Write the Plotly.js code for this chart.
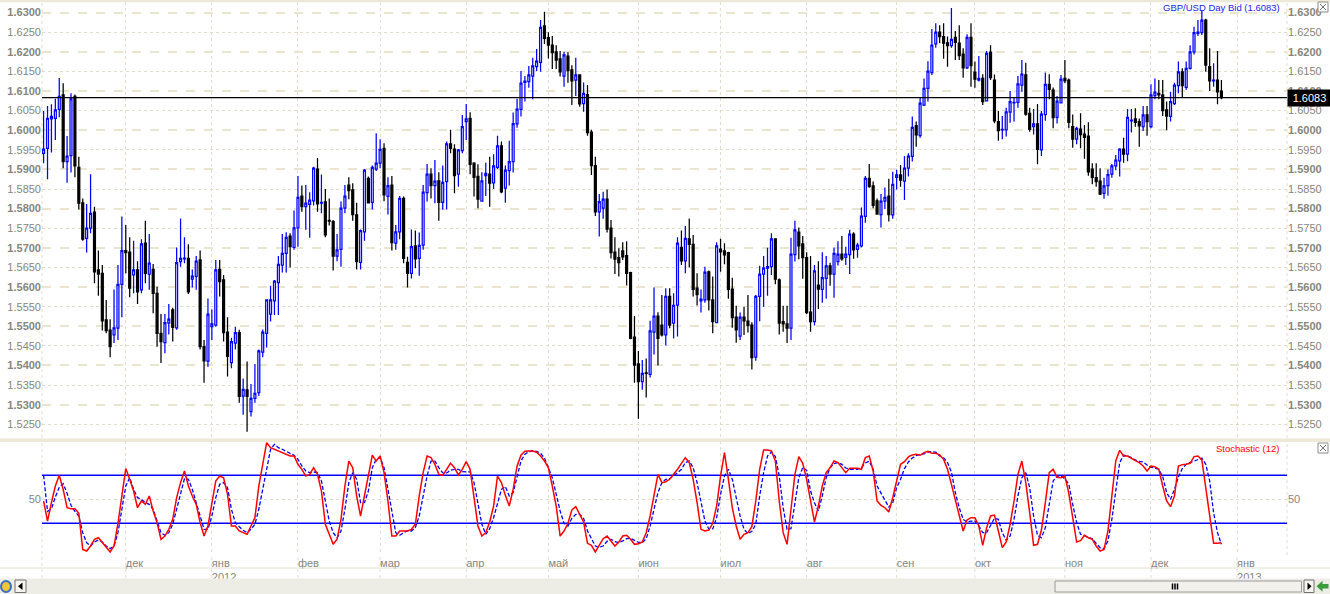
<!DOCTYPE html>
<html><head><meta charset="utf-8">
<script src="https://cdn.plot.ly/plotly-3.0.1.min.js"></script>
<style>html,body{margin:0;padding:0;background:#fff;overflow:hidden}#chart{width:1330px;height:594px}</style>
</head><body><div id="chart"></div>
<script>
// ---------------- DATA ----------------
const open = [
1.5941,1.5954,1.6029,1.6030,1.6053,1.6090,1.5920,1.5935,1.6086,1.5905,
1.5815,1.5724,1.5750,1.5791,1.5644,1.5635,1.5516,1.5490,1.5478,1.5495,
1.5607,1.5693,1.5689,1.5631,1.5644,1.5593,1.5712,1.5633,1.5645,1.5584,
1.5482,1.5458,1.5508,1.5542,1.5496,1.5665,1.5672,1.5673,1.5620,1.5627,
1.5669,1.5448,1.5411,1.5499,1.5503,1.5645,1.5618,1.5485,1.5407,1.5457,
1.5484,1.5322,1.5338,1.5282,1.5316,1.5331,1.5434,1.5482,1.5531,1.5565,
1.5611,1.5656,1.5686,1.5730,1.5701,1.5751,1.5832,1.5805,1.5811,1.5820,
1.5901,1.5814,1.5817,1.5770,1.5767,1.5679,1.5696,1.5801,1.5860,1.5848,
1.5784,1.5663,1.5741,1.5877,1.5816,1.5901,1.5916,1.5954,1.5831,1.5860,
1.5712,1.5741,1.5826,1.5663,1.5635,1.5705,1.5673,1.5707,1.5841,1.5888,
1.5859,1.5871,1.5816,1.5869,1.5965,1.5952,1.5888,1.5948,1.6022,1.6030,
1.5916,1.5882,1.5819,1.5884,1.5888,1.5866,1.5905,1.5960,1.5852,1.5897,
1.5920,1.6016,1.6053,1.6122,1.6124,1.6138,1.6162,1.6173,1.6266,1.6236,
1.6217,1.6200,1.6182,1.6138,1.6189,1.6154,1.6128,1.6141,1.6068,1.6091,
1.5995,1.5910,1.5792,1.5801,1.5824,1.5750,1.5689,1.5675,1.5692,1.5680,
1.5637,1.5472,1.5404,1.5359,1.5381,1.5377,1.5485,1.5526,1.5503,1.5478,
1.5576,1.5508,1.5554,1.5701,1.5667,1.5723,1.5709,1.5597,1.5565,1.5567,
1.5639,1.5567,1.5509,1.5697,1.5692,1.5688,1.5595,1.5523,1.5475,1.5523,
1.5513,1.5503,1.5421,1.5576,1.5633,1.5648,1.5652,1.5723,1.5618,1.5512,
1.5506,1.5495,1.5683,1.5740,1.5710,1.5675,1.5536,1.5512,1.5605,1.5594,
1.5622,1.5654,1.5633,1.5665,1.5684,1.5676,1.5683,1.5735,1.5696,1.5705,
1.5780,1.5877,1.5858,1.5820,1.5785,1.5819,1.5832,1.5784,1.5880,1.5886,
1.5870,1.5903,1.5933,1.6012,1.5986,1.6064,1.6107,1.6147,1.6220,1.6250,
1.6239,1.6223,1.6216,1.6237,1.6222,1.6194,1.6159,1.6237,1.6148,1.6128,
1.6132,1.6075,1.6199,1.6128,1.6022,1.6001,1.6001,1.6046,1.6070,1.6071,
1.6115,1.6141,1.6043,1.6009,1.6016,1.5950,1.6040,1.6117,1.6102,1.6033,
1.6070,1.6132,1.6128,1.6009,1.5977,1.6003,1.5990,1.5985,1.5901,1.5879,
1.5870,1.5839,1.5859,1.5888,1.5909,1.5922,1.5952,1.5939,1.6024,1.6029,
1.6022,1.6009,1.6039,1.6009,1.6088,1.6094,1.6090,1.6052,1.6035,1.6068,
1.6114,1.6149,1.6109,1.6158,1.6200,1.6247,1.6249,1.6281,1.6162,1.6126,
1.6128,1.6100];
const high = [
1.6049,1.6062,1.6066,1.6080,1.6133,1.6120,1.5985,1.6094,1.6091,1.5932,
1.5826,1.5812,1.5888,1.5805,1.5693,1.5656,1.5567,1.5518,1.5594,1.5656,
1.5780,1.5758,1.5727,1.5718,1.5666,1.5722,1.5769,1.5735,1.5659,1.5601,
1.5531,1.5531,1.5557,1.5547,1.5701,1.5775,1.5727,1.5709,1.5645,1.5679,
1.5693,1.5465,1.5571,1.5543,1.5669,1.5669,1.5631,1.5523,1.5471,1.5499,
1.5491,1.5367,1.5410,1.5353,1.5404,1.5441,1.5492,1.5567,1.5603,1.5618,
1.5679,1.5735,1.5740,1.5737,1.5795,1.5883,1.5859,1.5860,1.5842,1.5907,
1.5929,1.5887,1.5850,1.5826,1.5771,1.5735,1.5818,1.5860,1.5880,1.5865,
1.5815,1.5747,1.5901,1.5882,1.5910,1.5992,1.5977,1.5967,1.5880,1.5883,
1.5758,1.5832,1.5831,1.5677,1.5747,1.5744,1.5739,1.5860,1.5914,1.5903,
1.5924,1.5893,1.5910,1.5971,1.6001,1.5964,1.5952,1.6039,1.6067,1.6046,
1.5918,1.5913,1.5893,1.5917,1.5932,1.5939,1.5986,1.5971,1.5910,1.5973,
1.6045,1.6080,1.6151,1.6138,1.6164,1.6185,1.6207,1.6281,1.6302,1.6250,
1.6240,1.6217,1.6202,1.6200,1.6199,1.6166,1.6185,1.6143,1.6122,1.6115,
1.6001,1.5932,1.5837,1.5843,1.5849,1.5771,1.5727,1.5699,1.5714,1.5717,
1.5639,1.5526,1.5437,1.5414,1.5418,1.5514,1.5599,1.5536,1.5580,1.5597,
1.5597,1.5584,1.5727,1.5744,1.5756,1.5775,1.5733,1.5635,1.5594,1.5652,
1.5642,1.5627,1.5714,1.5723,1.5712,1.5690,1.5624,1.5552,1.5535,1.5550,
1.5580,1.5510,1.5580,1.5654,1.5679,1.5700,1.5737,1.5724,1.5622,1.5552,
1.5552,1.5726,1.5769,1.5752,1.5730,1.5689,1.5679,1.5656,1.5666,1.5689,
1.5679,1.5662,1.5701,1.5717,1.5730,1.5703,1.5746,1.5740,1.5713,1.5803,
1.5883,1.5914,1.5869,1.5826,1.5837,1.5854,1.5876,1.5894,1.5899,1.5911,
1.5934,1.5941,1.6035,1.6022,1.6084,1.6132,1.6176,1.6258,1.6273,1.6268,
1.6273,1.6239,1.6312,1.6253,1.6268,1.6209,1.6245,1.6273,1.6175,1.6189,
1.6143,1.6202,1.6217,1.6142,1.6049,1.6036,1.6057,1.6100,1.6084,1.6138,
1.6179,1.6172,1.6057,1.6054,1.6067,1.6049,1.6147,1.6143,1.6109,1.6087,
1.6141,1.6179,1.6132,1.6040,1.6009,1.6043,1.6013,1.6020,1.5916,1.5916,
1.5903,1.5879,1.5900,1.5914,1.5937,1.5954,1.5981,1.6054,1.6054,1.6056,
1.6030,1.6062,1.6062,1.6117,1.6132,1.6128,1.6128,1.6073,1.6098,1.6121,
1.6175,1.6158,1.6175,1.6217,1.6264,1.6281,1.6306,1.6284,1.6209,1.6171,
1.6202,1.6128];
const low = [
1.5916,1.5875,1.5943,1.5975,1.6033,1.5903,1.5866,1.5892,1.5880,1.5798,
1.5718,1.5688,1.5737,1.5610,1.5578,1.5489,1.5482,1.5421,1.5457,1.5465,
1.5523,1.5635,1.5574,1.5584,1.5557,1.5584,1.5610,1.5593,1.5533,1.5448,
1.5406,1.5431,1.5479,1.5461,1.5491,1.5652,1.5661,1.5582,1.5599,1.5593,
1.5441,1.5356,1.5397,1.5465,1.5499,1.5576,1.5461,1.5372,1.5393,1.5441,
1.5305,1.5274,1.5231,1.5270,1.5305,1.5322,1.5421,1.5446,1.5512,1.5529,
1.5529,1.5637,1.5637,1.5650,1.5695,1.5703,1.5792,1.5746,1.5726,1.5808,
1.5792,1.5788,1.5727,1.5757,1.5642,1.5666,1.5652,1.5788,1.5824,1.5769,
1.5645,1.5645,1.5718,1.5814,1.5798,1.5896,1.5903,1.5819,1.5785,1.5693,
1.5695,1.5722,1.5661,1.5599,1.5622,1.5648,1.5629,1.5695,1.5818,1.5826,
1.5814,1.5769,1.5797,1.5798,1.5941,1.5839,1.5856,1.5941,1.5975,1.5888,
1.5831,1.5801,1.5818,1.5832,1.5805,1.5850,1.5901,1.5839,1.5815,1.5859,
1.5892,1.6006,1.6035,1.6073,1.6108,1.6079,1.6151,1.6149,1.6220,1.6183,
1.6156,1.6156,1.6137,1.6111,1.6121,1.6064,1.6087,1.6060,1.6047,1.5986,
1.5886,1.5781,1.5729,1.5774,1.5739,1.5673,1.5633,1.5627,1.5669,1.5604,
1.5467,1.5356,1.5264,1.5338,1.5318,1.5369,1.5428,1.5400,1.5474,1.5451,
1.5495,1.5469,1.5474,1.5656,1.5635,1.5650,1.5576,1.5553,1.5535,1.5560,
1.5540,1.5482,1.5508,1.5639,1.5658,1.5570,1.5496,1.5458,1.5465,1.5478,
1.5484,1.5390,1.5412,1.5513,1.5550,1.5578,1.5631,1.5607,1.5479,1.5486,
1.5457,1.5465,1.5665,1.5671,1.5621,1.5531,1.5486,1.5502,1.5544,1.5560,
1.5570,1.5603,1.5573,1.5655,1.5667,1.5656,1.5633,1.5672,1.5675,1.5701,
1.5764,1.5853,1.5801,1.5785,1.5752,1.5799,1.5767,1.5774,1.5849,1.5856,
1.5822,1.5882,1.5920,1.5958,1.5981,1.6062,1.6073,1.6141,1.6210,1.6222,
1.6182,1.6162,1.6210,1.6179,1.6179,1.6134,1.6156,1.6111,1.6108,1.6124,
1.6064,1.6073,1.6128,1.6018,1.5973,1.5977,1.5984,1.6019,1.6022,1.6057,
1.6098,1.6037,1.5996,1.5989,1.5913,1.5934,1.6024,1.6079,1.6005,1.6017,
1.6068,1.6120,1.6005,1.5955,1.5964,1.5954,1.5927,1.5884,1.5862,1.5856,
1.5835,1.5825,1.5833,1.5879,1.5898,1.5882,1.5917,1.5921,1.5994,1.6009,
1.5958,1.5998,1.5986,1.6005,1.6079,1.6079,1.6036,1.6000,1.6022,1.6064,
1.6094,1.6084,1.6103,1.6155,1.6193,1.6240,1.6243,1.6149,1.6100,1.6111,
1.6066,1.6079];
const close = [
1.5952,1.6030,1.6035,1.6052,1.6086,1.5920,1.5934,1.6080,1.5909,1.5814,
1.5722,1.5750,1.5788,1.5639,1.5633,1.5514,1.5489,1.5448,1.5496,1.5607,
1.5693,1.5688,1.5597,1.5644,1.5588,1.5710,1.5635,1.5661,1.5584,1.5482,
1.5461,1.5509,1.5518,1.5497,1.5662,1.5673,1.5674,1.5588,1.5628,1.5666,
1.5448,1.5412,1.5531,1.5506,1.5644,1.5614,1.5484,1.5423,1.5461,1.5484,
1.5321,1.5339,1.5321,1.5316,1.5329,1.5437,1.5485,1.5567,1.5567,1.5615,
1.5658,1.5686,1.5727,1.5703,1.5751,1.5829,1.5805,1.5814,1.5822,1.5903,
1.5812,1.5816,1.5733,1.5768,1.5679,1.5695,1.5801,1.5832,1.5846,1.5785,
1.5665,1.5744,1.5898,1.5815,1.5905,1.5916,1.5951,1.5835,1.5859,1.5713,
1.5741,1.5826,1.5673,1.5635,1.5703,1.5672,1.5706,1.5842,1.5888,1.5859,
1.5870,1.5816,1.5867,1.5965,1.5954,1.5884,1.5950,1.6009,1.6029,1.5913,
1.5880,1.5824,1.5871,1.5890,1.5865,1.5909,1.5960,1.5843,1.5898,1.5920,
1.6017,1.6054,1.6120,1.6125,1.6141,1.6164,1.6176,1.6262,1.6234,1.6217,
1.6198,1.6179,1.6149,1.6192,1.6152,1.6126,1.6141,1.6067,1.6094,1.5994,
1.5910,1.5792,1.5818,1.5824,1.5748,1.5688,1.5671,1.5662,1.5677,1.5635,
1.5469,1.5401,1.5359,1.5380,1.5380,1.5488,1.5526,1.5469,1.5478,1.5576,
1.5503,1.5553,1.5712,1.5667,1.5724,1.5709,1.5594,1.5581,1.5569,1.5638,
1.5567,1.5512,1.5705,1.5690,1.5682,1.5594,1.5522,1.5491,1.5523,1.5514,
1.5502,1.5420,1.5576,1.5633,1.5648,1.5652,1.5723,1.5620,1.5508,1.5506,
1.5495,1.5684,1.5746,1.5705,1.5675,1.5535,1.5512,1.5641,1.5595,1.5624,
1.5654,1.5633,1.5686,1.5684,1.5672,1.5684,1.5735,1.5695,1.5707,1.5781,
1.5877,1.5856,1.5808,1.5786,1.5819,1.5829,1.5785,1.5862,1.5886,1.5873,
1.5903,1.5934,1.6007,1.5988,1.6069,1.6107,1.6151,1.6217,1.6250,1.6239,
1.6222,1.6216,1.6232,1.6224,1.6190,1.6159,1.6237,1.6165,1.6130,1.6132,
1.6073,1.6196,1.6134,1.6024,1.5999,1.6002,1.6047,1.6073,1.6071,1.6118,
1.6143,1.6041,1.6002,1.6016,1.5951,1.6041,1.6117,1.6104,1.6032,1.6074,
1.6130,1.6126,1.6020,1.5977,1.6005,1.5989,1.5982,1.5894,1.5880,1.5869,
1.5837,1.5858,1.5887,1.5909,1.5924,1.5952,1.5939,1.6033,1.6026,1.6020,
1.6011,1.6039,1.6022,1.6090,1.6097,1.6090,1.6050,1.6036,1.6073,1.6115,
1.6149,1.6114,1.6158,1.6200,1.6249,1.6250,1.6281,1.6166,1.6126,1.6128,
1.6098,1.6083];
const stochK = [
48.6,31.9,47.2,61.1,70,58.3,43,42.2,42.2,38.3,
8.3,6.9,11.1,16.7,18,13.9,9.7,6.1,11.1,30,
52.8,75.6,66.7,56.9,43,48.6,45.8,52.8,40.3,30.6,
16.7,19.4,25,33.3,51.4,63.9,73.6,61.1,52.8,45.8,
30.6,19.4,27.8,47.2,65.3,69.4,68,54.2,27.8,27.8,
23.6,22.2,20.8,27.8,34.7,61.1,79.2,97.2,93,91.7,
90.3,88.9,87.5,86.1,86.1,79.2,75,69.4,70.8,76.4,
70.8,56.9,29.2,20.8,12.5,16.7,33.3,61.1,81.9,76.4,
52.8,36.1,52.8,72.2,86.9,81.9,86.1,72.2,48.6,19.4,
19.4,23.6,23.6,23.6,25,29.2,52.8,72.2,86.1,84.7,
79.2,70.8,70,75,80,76.4,70.3,75,81.4,75,
51.4,27.8,19.4,22.2,31.1,44.4,69.4,63.9,53.3,44.4,
58.3,77.8,86.7,90,90.3,90.3,89.2,86.1,81.9,76.4,
61.1,44.4,19.4,23.6,30,41.1,43.9,37.5,31.1,13.3,
11.7,6.1,11.7,17.2,19.4,15.3,11.1,14.4,19.4,20,
16.7,12.5,13,14.4,22.2,36.1,54.2,70.8,63.9,64.7,
66.7,70.8,75,80,84.7,80.6,66.7,47.2,25,23.6,
24.4,30,44.4,69.4,88.9,66.7,43,27.8,16.7,20.8,
22.2,27.2,48.6,75,91.1,91.1,90.3,82,48.6,22.2,
12.5,41.7,70.8,85.6,80,66.7,47.2,31.1,44.4,61.1,
72.2,76.4,81.9,80.6,76.4,72.2,75.8,75.8,75.8,75,
84.7,86.1,73.6,48.6,45,43,39.4,51.4,66.7,79.2,
81.4,85.3,87,87.5,86.7,88.9,90,88.3,88.3,87,
83.3,75,62.5,49.4,36.1,23.6,32.8,34.7,34.7,27.8,
11.7,26.4,36.1,36.9,23.6,9.7,14.4,29.2,48.6,70.8,
81.9,63.9,38.9,11.7,12.5,24.4,47.2,72.2,75,68.3,
68,69.4,55,36.1,14.4,15.6,20,18,16.7,11.1,
6.9,8.3,23.6,52.8,81.9,90.8,86.1,86.1,83.9,82.2,
80.6,77.8,73.6,77.8,77.2,75,61.1,48.6,43.9,52.8,
77.8,78.9,79.2,80,85.6,86.1,82.8,58.3,34.7,13.3,
13.3,13.9];
const stochD = [
70,40,42,52,60,63,55,45,40,36,
22.2,13.9,11.1,14.4,16.1,14.4,11.1,8.9,11.1,22.2,
41.7,61.1,68,58.3,51.4,50,47.2,45.8,41.7,31.9,
22.2,20,22.2,29.2,41.7,55.6,67.2,66.7,58.3,47.2,
36.1,25,25,36.1,51.4,62.5,63.9,59.7,41.7,30.6,
27.2,24.2,22.2,25,29.2,41.7,58.3,75,91.7,95.8,
93,91.7,90.3,88.3,86.7,83.3,77.8,73.6,72.2,72.8,
72.2,65.3,48.6,31.9,22.2,18,23.6,41.7,63.9,72.2,
66.7,47.2,47.2,56.9,76.4,83.3,84.7,76.4,58.3,40.3,
22.2,20,22.2,23.6,23.6,26.4,36.1,52.8,69.4,81.9,
81.9,76.4,72,72,74.2,75,75,73,72.8,72.8,
63.9,47.2,29.2,20.8,25.6,34.7,47.2,58.3,60.6,52.8,
55.6,69.4,81.9,87.5,89.7,90.3,90,88.3,84.4,76.4,
68,54.2,40.3,30,27.8,34.2,37.5,37.5,34.2,23.6,
16.7,11.1,10,11.1,15,16.7,14.7,13.9,15.3,17.2,
17.5,15.8,14.2,13.9,17.2,27.8,43,55.6,63.9,66.7,
67.2,69.4,72.2,75,80.6,81.9,76.4,63.9,47.2,31.9,
25.3,25.3,34.7,54.2,69.4,75,66.7,50,36.1,25,
21.4,23.3,29.2,52.8,72.2,86.1,89.4,85.6,69.4,43,
25,25.6,48.6,68,76.4,74.2,56.9,47.2,40.3,52.8,
68,76.4,79.7,80.6,79.2,76.1,75,75,75,76.4,
80.3,81.7,75,61.1,55,49.4,43.6,47.2,59.7,66.7,
75.6,81.1,84.4,86.4,87.5,87.8,89.4,89.7,89.4,86.1,
84.7,80.6,72.8,55.6,43,33.3,31.1,31.9,31.9,27.8,
22.2,22.2,28.3,34.2,33.3,22.2,15.8,19.4,33.3,52.8,
68,72.2,59.7,36.1,20,18,26.4,47.2,65.3,69.4,
69.4,67.2,62.5,45.8,30.6,20.8,19.4,18.6,17.2,13.3,
9.7,8.9,15.3,33.3,56.9,80.6,86.7,86.1,84.7,82.8,
81.7,81.1,78.6,76.9,76.1,75,68.9,55.6,50,58.3,
68.6,75.6,79.2,80.6,81.9,83.3,84.4,79.2,65.3,38.9,
22.2,12.5];
// bar index of the first trading day of each month shown on the time axis
const monthStartIdx = [21,43,65,86,108,129,152,173,195,218,238,261,283,305];
const monthLabels = ['дек','янв<br>2012','фев','мар','апр','май','июн','июл','авг','сен','окт','ноя','дек','янв<br>2013'];
const priceTicks = [1.5250,1.5300,1.5350,1.5400,1.5450,1.5500,1.5550,1.5600,1.5650,1.5700,1.5750,1.5800,1.5850,1.5900,1.5950,1.6000,1.6050,1.6100,1.6150,1.6200,1.6250,1.6300];
const stochTicks = [50];
const stochLevels = [30, 70];
const symbolName = 'GBP/USD Day Bid';
const stochName = 'Stochastic (12)';

// ---------------- CHART ----------------
const idx = close.map((_, i) => i);
const lastClose = close[close.length - 1];

const W = 1330, H = 594, ML = 42, MR = 43, MT = 2, MB = 39;
const PX0 = ML, PX1 = W - MR, PY0 = MT, PY1 = H - MB;
const px = v => (v - PX0) / (PX1 - PX0);
const py = v => (PY1 - v) / (PY1 - PY0);

const FONT = 'Liberation Sans, Arial, sans-serif';
const LBL = '#86867c';
const GRID_DASH = '#E9E5CF';
const GRID_DOT = '#E2DECB';
const BEIGE = '#ECE9D8';

const isMajor = v => Math.abs(v * 100 - Math.round(v * 100)) < 1e-6;
const priceText = priceTicks.map(v => isMajor(v) ? '<b>' + v.toFixed(4) + '</b>' : v.toFixed(4));
const majorTicks = priceTicks.filter(isMajor);
const minorTicks = priceTicks.filter(v => !isMajor(v));

const priceRange = [1.5215, 1.6327];
const stochRange = [3.6, 98.6];
const xRange = [-0.41, 317.76];

const traces = [
  {type: 'candlestick', x: idx, open: open, high: high, low: low, close: close,
   xaxis: 'x', yaxis: 'y', hoverinfo: 'skip', whiskerwidth: 0,
   increasing: {line: {color: '#0000FF', width: 1.25}, fillcolor: '#FFFFFF'},
   decreasing: {line: {color: '#000000', width: 1.25}, fillcolor: '#000000'}},
  {type: 'scatter', mode: 'markers', x: [idx[0]], y: [close[0]], xaxis: 'x', yaxis: 'y3', marker: {opacity: 0}, hoverinfo: 'skip'},
  {type: 'scatter', mode: 'markers', x: [idx[0]], y: [close[0]], xaxis: 'x', yaxis: 'y5', marker: {opacity: 0}, hoverinfo: 'skip'},
  {type: 'scatter', mode: 'lines', x: idx, y: stochD, xaxis: 'x2', yaxis: 'y2',
   line: {color: '#0000FF', width: 1.3, dash: '4px,2px'}, hoverinfo: 'skip'},
  {type: 'scatter', mode: 'lines', x: idx, y: stochK, xaxis: 'x2', yaxis: 'y2',
   line: {color: '#FF0000', width: 1.5}, hoverinfo: 'skip'},
  {type: 'scatter', mode: 'markers', x: [idx[0]], y: [stochK[0]], xaxis: 'x2', yaxis: 'y4', marker: {opacity: 0}, hoverinfo: 'skip'}
];

const tickFont = {family: FONT, size: 11, color: LBL};
const layout = {
  width: W, height: H, margin: {l: ML, r: MR, t: MT, b: MB, pad: 0},
  paper_bgcolor: '#FFFFFF', plot_bgcolor: '#FFFFFF', showlegend: false,
  hovermode: false, dragmode: false,
  xaxis: {domain: [0, 1], anchor: 'y', range: xRange, tickmode: 'array', tickvals: monthStartIdx,
          showticklabels: false, ticks: '', showgrid: true, griddash: 'dot', gridcolor: GRID_DOT, gridwidth: 1,
          zeroline: false, showline: false, rangeslider: {visible: false}, fixedrange: true},
  xaxis2: {domain: [0, 1], anchor: 'y2', matches: 'x', range: xRange, tickmode: 'array', tickvals: monthStartIdx,
           ticktext: monthLabels, ticklabelposition: 'outside right', ticks: '', tickfont: tickFont,
           showgrid: true, griddash: 'dot', gridcolor: GRID_DOT, gridwidth: 1, zeroline: false, showline: false, fixedrange: true},
  yaxis: {domain: [py(438), 1], anchor: 'x', range: priceRange, tickmode: 'array', tickvals: priceTicks, ticktext: priceText,
          tickfont: tickFont, showgrid: false, zeroline: false, showline: false, ticks: '', fixedrange: true},
  yaxis3: {overlaying: 'y', side: 'right', anchor: 'x', range: priceRange, tickmode: 'array', tickvals: priceTicks, ticktext: priceText,
           tickfont: tickFont, showgrid: false, zeroline: false, showline: false, ticks: '', fixedrange: true},
  yaxis5: {overlaying: 'y', side: 'left', anchor: 'x', range: priceRange, tickmode: 'array', tickvals: majorTicks,
           showticklabels: false, ticks: '', showgrid: true, griddash: 'dash', gridcolor: GRID_DASH, gridwidth: 2,
           minor: {tickmode: 'array', tickvals: minorTicks, showgrid: true, griddash: 'dot', gridcolor: GRID_DOT, gridwidth: 1, ticks: ''},
           zeroline: false, showline: false, fixedrange: true},
  yaxis2: {domain: [0, py(441)], anchor: 'x2', range: stochRange, tickmode: 'array', tickvals: stochTicks,
           tickfont: tickFont, showgrid: true, griddash: 'dot', gridcolor: GRID_DOT, zeroline: false, showline: false, ticks: '', fixedrange: true},
  yaxis4: {overlaying: 'y2', side: 'right', anchor: 'x2', range: stochRange, tickmode: 'array', tickvals: stochTicks,
           tickfont: tickFont, showgrid: false, zeroline: false, showline: false, ticks: '', fixedrange: true},
  shapes: [], annotations: []
};

const S = layout.shapes, A = layout.annotations;
const rect = (x0, y0, x1, y1, fill, line, lw) => S.push({type: 'rect', xref: 'paper', yref: 'paper',
  x0: px(x0), x1: px(x1), y0: py(y0), y1: py(y1), fillcolor: fill, line: {color: line || fill, width: lw === undefined ? 0 : lw}, layer: 'above'});
const seg = (x0, y0, x1, y1, color, w, dash) => S.push({type: 'line', xref: 'paper', yref: 'paper',
  x0: px(x0), x1: px(x1), y0: py(y0), y1: py(y1), line: {color: color, width: w, dash: dash || 'solid'}, layer: 'above'});
const poly = (pts, fill) => S.push({type: 'path', xref: 'paper', yref: 'paper', layer: 'above',
  path: 'M' + pts.map(p => px(p[0]) + ',' + py(p[1])).join(' L') + ' Z', fillcolor: fill, line: {width: 0}});

// frame bands
rect(0, 0, W, 2.2, BEIGE);
rect(0, 438.6, W, 442, BEIGE);
seg(0, 568, W, 568, '#E4E1D0', 1);
// plot edge dotted lines
S.push({type: 'line', xref: 'paper', yref: 'paper', x0: 0, x1: 0, y0: py(438), y1: 1, line: {color: GRID_DOT, width: 1, dash: 'dot'}, layer: 'below'});
S.push({type: 'line', xref: 'paper', yref: 'paper', x0: 1, x1: 1, y0: py(438), y1: 1, line: {color: GRID_DOT, width: 1, dash: 'dot'}, layer: 'below'});
S.push({type: 'line', xref: 'paper', yref: 'paper', x0: 0, x1: 0, y0: py(578), y1: py(442), line: {color: GRID_DOT, width: 1, dash: 'dot'}, layer: 'below'});
S.push({type: 'line', xref: 'paper', yref: 'paper', x0: 1, x1: 1, y0: 0, y1: py(442), line: {color: GRID_DOT, width: 1, dash: 'dot'}, layer: 'below'});
// month gridlines continue through the label strip
monthStartIdx.forEach(m => S.push({type: 'line', xref: 'x2', yref: 'paper', x0: m, x1: m, y0: py(578), y1: 0,
  line: {color: GRID_DOT, width: 1, dash: 'dot'}, layer: 'below'}));
// stochastic level lines
stochLevels.forEach(v => S.push({type: 'line', xref: 'x2 domain', yref: 'y2', x0: 0, x1: 1, y0: v, y1: v,
  line: {color: '#0000FF', width: 1.4}, layer: 'below'}));
// last price line
S.push({type: 'line', xref: 'x domain', yref: 'y', x0: 0, x1: 1, y0: lastClose, y1: lastClose,
  line: {color: '#000000', width: 1.2}, layer: 'above'});

// close boxes
[[2, 12], [443, 453]].forEach(([a, b]) => {
  rect(1318, a, 1328, b, '#FFFFFF', '#8C8C8C', 1);
  seg(1320, a + 2, 1326, b - 2, '#707070', 1);
  seg(1320, b - 2, 1326, a + 2, '#707070', 1);
});

// scrollbar strip
rect(0, 578.5, W, 594, '#EDECE5');
S.push({type: 'circle', xref: 'paper', yref: 'paper', x0: px(1), x1: px(11), y0: py(581), y1: py(592),
  fillcolor: '#F3C43A', line: {color: '#3A6FC8', width: 2}, layer: 'above'});
rect(15, 580, 26, 592.5, '#F6F5F0', '#707070', 1);
poly([[22.5, 582.5], [18, 586.3], [22.5, 590]], '#000000');
rect(1055, 581, 1301.5, 592, '#F2F1EC', '#9A9A9A', 1);
[1172.5, 1175, 1177.5].forEach(x => seg(x, 583.5, x, 589.5, '#000000', 1.5));
rect(1304, 580, 1314, 592.5, '#F6F5F0', '#707070', 1);
poly([[1307.5, 582.5], [1311.5, 586.3], [1307.5, 590]], '#000000');
poly([[1316.5, 586.3], [1322.5, 580.8], [1322.5, 584], [1328.5, 584], [1328.5, 588.6], [1322.5, 588.6], [1322.5, 591.8]], '#3C9C3C');

// texts
A.push({xref: 'paper', yref: 'paper', x: px(1282), y: py(7.8), xanchor: 'right', yanchor: 'middle', showarrow: false,
  text: symbolName + ' (' + lastClose.toFixed(4) + ')', font: {family: FONT, size: 9.5, color: '#1C1CF0'}});
A.push({xref: 'paper', yref: 'paper', x: px(1280.5), y: py(448), xanchor: 'right', yanchor: 'middle', showarrow: false,
  text: stochName, font: {family: FONT, size: 9.5, color: '#FF0000'}});
A.push({xref: 'paper', yref: 'y', x: 1, y: lastClose, xanchor: 'left', yanchor: 'middle', showarrow: false,
  text: lastClose.toFixed(4), bgcolor: '#000000', borderpad: 2, width: 39, align: 'center',
  font: {family: FONT, size: 11, color: '#FFFFFF'}});

Plotly.newPlot('chart', traces, layout, {displayModeBar: false, staticPlot: true, responsive: false});
</script>
</body></html>
